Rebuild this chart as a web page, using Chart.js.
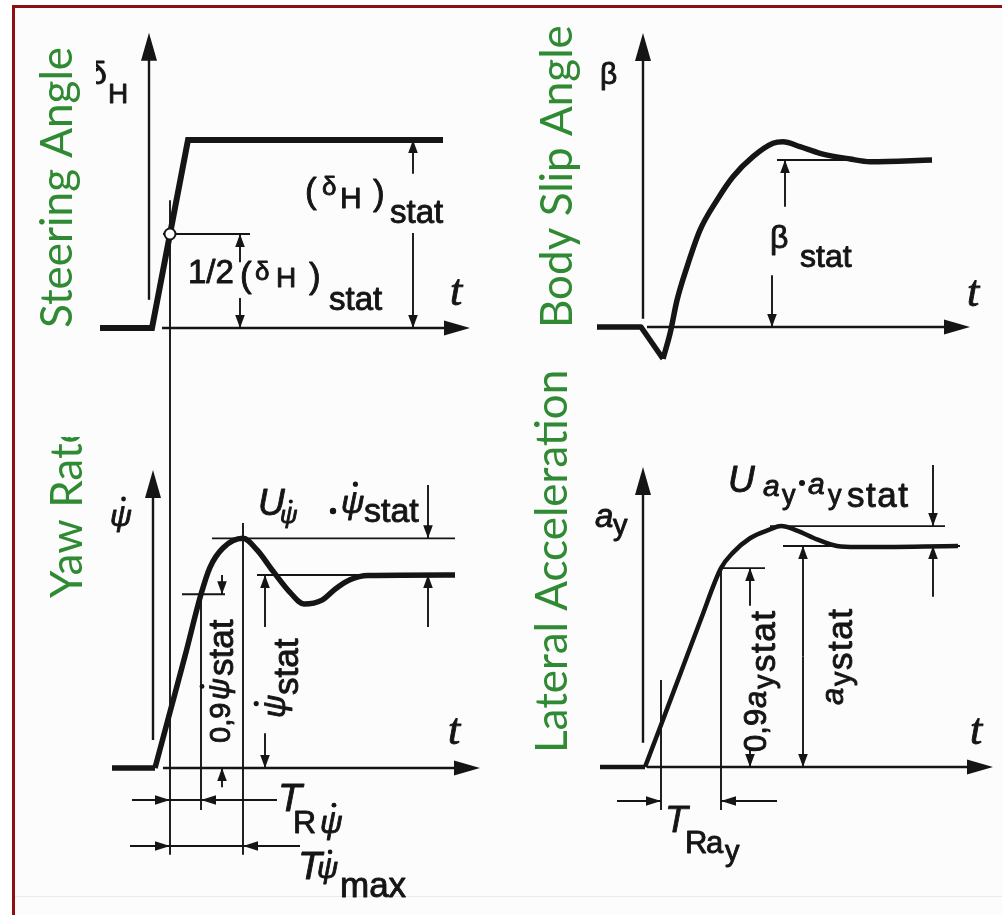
<!DOCTYPE html>
<html>
<head>
<meta charset="utf-8">
<title>Step steer response</title>
<script src="https://cdn.jsdelivr.net/npm/chart.js@4.4.1/dist/chart.umd.min.js"></script>
<style>
  html, body { margin: 0; padding: 0; background: #ffffff; }
  #sheet { position: relative; width: 1002px; height: 915px; overflow: hidden; }
  #paper { position: absolute; left: 14px; top: 7px; right: 0; bottom: 0; background: #fbfcfb; }
  #rimTop { position: absolute; left: 12px; top: 5px; right: 0; height: 2.5px; background: #8e0f12; }
  #rimLeft { position: absolute; left: 12px; top: 5px; width: 2.5px; bottom: 0; background: #8e0f12; }
  #rimBottom { position: absolute; left: 14px; right: 0; top: 896px; height: 1px; background: #e8ecef; }
  canvas { position: absolute; left: 0; top: 0; }
</style>
</head>
<body>
<div id="sheet">
  <div id="paper"></div>
  <div id="rimBottom"></div>
  <div id="rimTop"></div>
  <div id="rimLeft"></div>
  <canvas id="leftColumn" width="1002" height="915"></canvas>
  <canvas id="rightColumn" width="1002" height="915"></canvas>
</div>
<script>
// time in s, counted from the moment the steering wheel passes half of its travel;
// every signal is relative to its own steady-state value (stat = 1)
const steerTime  = [-0.35, -0.09, 0.09, 1.365];
const steerValue = [0, 0, 1, 1];

const betaTime  = [-0.32, -0.1, 0.01, 0.045, 0.08, 0.13, 0.195, 0.28, 0.36, 0.46, 0.56, 0.61, 0.695, 0.795, 0.945, 1.045, 1.355];
const betaValue = [0, 0, -0.19, -0.04, 0.16, 0.36, 0.58, 0.76, 0.9, 1.02, 1.1, 1.11, 1.08, 1.04, 1.006, 0.99, 1];

const yawTime  = [-0.29, -0.075, 0, 0.075, 0.155, 0.2, 0.265, 0.365, 0.435, 0.515, 0.6, 0.67, 0.76, 0.83, 0.9, 0.99, 1.425];
const yawValue = [0, 0, 0.29, 0.58, 0.9, 1.04, 1.14, 1.19, 1.13, 1.02, 0.91, 0.85, 0.87, 0.93, 0.975, 0.997, 1];

const latTime  = [-0.305, -0.08, 0, 0.1, 0.2, 0.3, 0.36, 0.445, 0.545, 0.6, 0.68, 0.78, 0.88, 0.98, 1.485];
const latValue = [0, 0, 0.19, 0.43, 0.67, 0.9, 0.97, 1.035, 1.075, 1.09, 1.07, 1.03, 1.0, 0.995, 1];

// characteristic values marked on the plots
const halfSteer = 0.5;
const yawRise = { level: 0.9, time: 0.155 };   // T_R
const yawPeak = { level: 1.19, time: 0.365 };  // T_max and overshoot U
const latRise = { level: 0.9, time: 0.3 };
const latPeak = 1.09;

// page layout
const W = 1002, H = 915;
const SEC = 200;                                   // px per s, both columns
const leftCol  = { ref: 170, from: 90,  to: 490 };  // pixel column of t = 0 and plot span
const rightCol = { ref: 661, from: 580, to: 1000 };
const rows = { steer: [328, 188], yaw: [768, 193], beta: [327, 167], lat: [767, 221] }; // zero line, px per stat unit

const INK = '#151515';
const GREEN = '#2f8a33';
const SANS = '"Liberation Sans", Arial, sans-serif';
const SERIF = '"Liberation Serif", "Times New Roman", serif';

function xScale(col) {
    return { type: 'linear', display: false, min: (col.from - col.ref) / SEC, max: (col.to - col.ref) / SEC };
}
function yScale(row) {
    return { type: 'linear', display: false, min: -(H - row[0]) / row[1], max: row[0] / row[1] };
}

// one drawn stretch of a signal; the flat pre-step part is kept straight so the corner stays sharp
function trace(axis, t, v, from, to, smooth, width, join) {
    return {
        yAxisID: axis,
        data: t.slice(from, to).map(function (x, i) { return { x: x, y: v[from + i] }; }),
        borderColor: INK,
        borderWidth: width || 5.5,
        pointRadius: 0,
        tension: smooth ? 0.4 : 0,
        cubicInterpolationMode: smooth ? 'monotone' : 'default',
        borderJoinStyle: join || 'round',
        borderCapStyle: 'butt',
        clip: false
    };
}

function pen(chart) {
    const ctx = chart.ctx;
    const at = function (axis, t, v) {
        return [chart.scales.x.getPixelForValue(t), chart.scales[axis].getPixelForValue(v)];
    };
    const seg = function (a, b, w) {
        ctx.lineWidth = w;
        ctx.beginPath(); ctx.moveTo(a[0], a[1]); ctx.lineTo(b[0], b[1]); ctx.stroke();
    };
    const head = function (from, tip, len, half) {
        const dx = tip[0] - from[0], dy = tip[1] - from[1], d = Math.hypot(dx, dy) || 1;
        const ux = dx / d, uy = dy / d, bx = tip[0] - ux * len, by = tip[1] - uy * len;
        ctx.beginPath();
        ctx.moveTo(tip[0], tip[1]);
        ctx.lineTo(bx - uy * half, by + ux * half);
        ctx.lineTo(bx + uy * half, by - ux * half);
        ctx.closePath(); ctx.fill();
    };
    ctx.strokeStyle = INK;
    ctx.fillStyle = INK;
    return {
        ctx: ctx, at: at, seg: seg, head: head,
        hLine: function (axis, v, t1, t2, w) { seg(at(axis, t1, v), at(axis, t2, v), w || 1.9); },
        vLine: function (axis, t, v1, v2, w) { seg(at(axis, t, v1), at(axis, t, v2), w || 1.9); },
        // coordinate axes with large heads
        vAxis: function (axis, t, v1, v2) {
            const a = at(axis, t, v1), b = at(axis, t, v2);
            seg(a, [b[0], b[1] + 12], 2.4); head(a, b, 28, 8);
        },
        hAxis: function (axis, t1, t2) {
            const a = at(axis, t1, 0), b = at(axis, t2, 0);
            seg(a, [b[0] - 12, b[1]], 2.4); head(a, b, 26, 7.5);
        },
        // dimension arrow: stem from v1, head touching v2
        dim: function (axis, t, v1, v2) {
            const a = at(axis, t, v1), b = at(axis, t, v2);
            seg(a, b, 1.9); head(a, b, 13, 4.8);
        },
        text: function (axis, t, v, parts, rotated, clipX) {
            const o = at(axis, t, v);
            ctx.save();
            if (clipX !== undefined) { ctx.beginPath(); ctx.rect(clipX, 0, W, H); ctx.clip(); }
            ctx.translate(o[0], o[1]);
            if (rotated) ctx.rotate(-Math.PI / 2);
            ctx.textBaseline = 'alphabetic';
            ctx.textAlign = 'left';
            ctx.lineWidth = 0.9;
            ctx.lineJoin = 'round';
            parts.forEach(function (p) {
                const dx = p.dx || 0, dy = p.dy || 0;
                if (p.c) {
                    ctx.beginPath(); ctx.arc(dx, dy, p.c, 0, 2 * Math.PI); ctx.fill();
                    return;
                }
                ctx.font = (p.i ? 'italic ' : '') + p.z + 'px ' + (p.serif ? SERIF : SANS);
                ctx.letterSpacing = (p.ls || 0) + 'px';
                ctx.fillText(p.s, dx, dy);
                ctx.strokeText(p.s, dx, dy);   // a little extra weight, like printed figure lettering
                if (p.dot) {
                    const w = ctx.measureText(p.s).width;
                    ctx.beginPath();
                    ctx.arc(dx + w * 0.62, dy - p.z * 0.9, Math.max(2, p.z * 0.08), 0, 2 * Math.PI);
                    ctx.fill();
                }
            });
            ctx.restore();
        }
    };
}

// rotated green heading at the side of a plot
function sideTitle(ctx, text, x, y, clipTop) {
    ctx.save();
    if (clipTop !== undefined) { ctx.beginPath(); ctx.rect(0, clipTop, W, H); ctx.clip(); }
    ctx.translate(x, y);
    ctx.rotate(-Math.PI / 2);
    ctx.font = '44px Lato, "Open Sans", sans-serif';
    ctx.fillStyle = GREEN;
    ctx.textAlign = 'left';
    ctx.textBaseline = 'alphabetic';
    ctx.fillText(text, 0, 0);
    ctx.restore();
}

const leftMarks = {
    id: 'leftMarks',
    beforeDatasetsDraw: function (chart) {
        const p = pen(chart);
        p.ctx.save();
        // steering angle
        p.vAxis('ySteer', -0.105, 0.15, 1.57);
        p.hAxis('ySteer', -0.04, 1.5);
        p.hLine('ySteer', halfSteer, -0.035, 0.4);
        // time reference through the half-travel point, carried down to the yaw plot
        p.seg(p.at('ySteer', 0, 0.68), p.at('yYaw', 0, -0.45), 1.9);
        // yaw rate
        p.vAxis('yYaw', -0.085, 0.145, 1.544);
        p.hAxis('yYaw', -0.035, 1.55);
        p.hLine('yYaw', yawPeak.level, 0.21, 1.425);
        p.hLine('yYaw', 1, 0.435, 1.425);
        p.hLine('yYaw', yawRise.level, 0.06, 0.275);
        p.vLine('yYaw', yawRise.time, yawRise.level, -0.218);
        p.vLine('yYaw', yawPeak.time, 1.27, -0.45);
        // response time and peak time
        p.hLine('yYaw', -0.166, -0.19, 0.535);
        p.head(p.at('yYaw', -0.1, -0.166), p.at('yYaw', 0, -0.166), 15, 4.8);
        p.head(p.at('yYaw', 0.3, -0.166), p.at('yYaw', yawRise.time, -0.166), 15, 4.8);
        p.hLine('yYaw', -0.404, -0.2, 0.65);
        p.head(p.at('yYaw', -0.1, -0.404), p.at('yYaw', 0, -0.404), 15, 4.8);
        p.head(p.at('yYaw', 0.5, -0.404), p.at('yYaw', yawPeak.time, -0.404), 15, 4.8);
        p.ctx.restore();
    },
    afterDatasetsDraw: function (chart) {
        const p = pen(chart), ctx = p.ctx;
        ctx.save();
        // half-travel marker
        const m = p.at('ySteer', 0, halfSteer);
        ctx.beginPath(); ctx.arc(m[0], m[1], 5.5, 0, 2 * Math.PI);
        ctx.fillStyle = '#ffffff'; ctx.fill(); ctx.lineWidth = 2; ctx.stroke();
        ctx.fillStyle = INK;

        p.dim('ySteer', 0.35, 0.35, halfSteer);
        p.dim('ySteer', 0.35, 0.16, 0);
        p.dim('ySteer', 1.215, 0.82, 1);
        p.dim('ySteer', 1.215, 0.505, 0);

        p.dim('yYaw', 0.26, 1.0, yawRise.level);
        p.dim('yYaw', 0.26, -0.1, 0);
        p.dim('yYaw', 0.475, 0.73, 1);
        p.dim('yYaw', 0.475, 0.18, 0);
        p.dim('yYaw', 1.29, 1.466, yawPeak.level);
        p.dim('yYaw', 1.29, 0.73, 1);

        // labels, steering angle
        p.text('ySteer', -0.405, 1.298, [{ s: 'δ', z: 32 }, { s: 'H', z: 28, dx: 19, dy: 19 }], false, p.at('ySteer', -0.37, 0)[0]);
        p.text('ySteer', 0.675, 0.665, [
            { s: '(', z: 35 }, { s: 'δ', z: 26, dx: 17, dy: -8 }, { s: 'H', z: 30, dx: 35, dy: 5 },
            { s: ')', z: 35, dx: 68, dy: 2 }, { s: 'stat', z: 33, dx: 85, dy: 20 }
        ]);
        p.text('ySteer', 0.09, 0.239, [
            { s: '1/2', z: 33 }, { s: '(', z: 35, dx: 52, dy: 4 }, { s: 'δ', z: 26, dx: 67, dy: -3 },
            { s: 'H', z: 28, dx: 88, dy: 4 }, { s: ')', z: 35, dx: 121, dy: 5 }, { s: 'stat', z: 33, dx: 141, dy: 27 }
        ]);
        p.text('ySteer', 1.4, 0.122, [{ s: 't', z: 44, i: true, serif: true }]);

        // labels, yaw rate
        p.text('yYaw', -0.3, 1.254, [{ s: 'ψ', z: 30, i: true, dot: true }]);
        p.text('yYaw', 0.44, 1.311, [
            { s: 'U', z: 37, i: true }, { s: 'ψ', z: 24, i: true, dx: 22, dy: 8, dot: true },
            { c: 3.2, dx: 75, dy: -4 }, { s: 'ψ', z: 32, i: true, dx: 83, dy: -2, dot: true },
            { s: 'stat', z: 34, dx: 106, dy: 7 }
        ]);
        p.text('yYaw', 0.3, 0.13, [
            { s: '0,9', z: 29 }, { s: 'ψ', z: 30, i: true, dx: 43, dy: -1, dot: true }, { s: 'stat', z: 35, dx: 67, dy: 3 }
        ], true);
        p.text('yYaw', 0.575, 0.259, [
            { s: 'ψ', z: 32, i: true, dot: true }, { s: 'stat', z: 35, dx: 23, dy: 13 }
        ], true);
        p.text('yYaw', 0.54, -0.223, [
            { s: 'T', z: 39, i: true }, { s: 'R', z: 32, dx: 15, dy: 22 }, { s: 'ψ', z: 31, i: true, dx: 42, dy: 22, dot: true }
        ]);
        p.text('yYaw', 0.64, -0.575, [
            { s: 'T', z: 39, i: true }, { s: 'ψ', z: 29, i: true, dx: 19, dy: -1, dot: true }, { s: 'max', z: 35, dx: 42, dy: 18 }
        ]);
        p.text('yYaw', 1.39, 0.124, [{ s: 't', z: 44, i: true, serif: true }]);
        ctx.restore();
    },
    afterDraw: function (chart) {
        sideTitle(chart.ctx, 'Steering Angle', 72, 328);
        sideTitle(chart.ctx, 'Yaw Rate', 82, 598, 437);
    }
};

const rightMarks = {
    id: 'rightMarks',
    beforeDatasetsDraw: function (chart) {
        const p = pen(chart);
        p.ctx.save();
        // body slip angle
        p.vAxis('yBeta', -0.09, 0.05, 1.76);
        p.hAxis('yBeta', -0.07, 1.545);
        p.hLine('yBeta', 1, 0.58, 1.05);
        // lateral acceleration
        p.vAxis('yLat', -0.09, 0.11, 1.357);
        p.hAxis('yLat', -0.07, 1.66);
        p.hLine('yLat', latPeak, 0.545, 1.42);
        p.hLine('yLat', 1, 0.61, 1.495);
        p.hLine('yLat', latRise.level, latRise.time, 0.52);
        p.vLine('yLat', 0, 0.394, -0.195);
        p.vLine('yLat', latRise.time, latRise.level, -0.195);
        // response time
        p.hLine('yLat', -0.154, -0.22, 0);
        p.head(p.at('yLat', -0.1, -0.154), p.at('yLat', 0, -0.154), 15, 4.8);
        p.hLine('yLat', -0.154, latRise.time, 0.58);
        p.head(p.at('yLat', 0.5, -0.154), p.at('yLat', latRise.time, -0.154), 15, 4.8);
        p.ctx.restore();
    },
    afterDatasetsDraw: function (chart) {
        const p = pen(chart), ctx = p.ctx;
        ctx.save();
        p.dim('yBeta', 0.62, 0.72, 1);
        p.dim('yBeta', 0.555, 0.31, 0);

        p.dim('yLat', 0.71, 0.5, 1);
        p.dim('yLat', 0.71, 0.5, 0);
        p.dim('yLat', 0.445, 0.73, latRise.level);
        p.dim('yLat', 0.445, 0.09, 0);
        p.dim('yLat', 1.36, 1.367, latPeak);
        p.dim('yLat', 1.36, 0.77, 1);

        // labels, body slip angle
        p.text('yBeta', -0.305, 1.455, [{ s: 'β', z: 30 }]);
        p.text('yBeta', 0.545, 0.473, [{ s: 'β', z: 32 }, { s: 'stat', z: 32, dx: 30, dy: 19 }]);
        p.text('yBeta', 1.53, 0.126, [{ s: 't', z: 44, i: true, serif: true }]);

        // labels, lateral acceleration
        p.text('yLat', -0.33, 1.086, [{ s: 'a', z: 33, i: true }, { s: 'y', z: 29, dx: 18, dy: 8 }]);
        p.text('yLat', 0.335, 1.244, [
            { s: 'U', z: 37, i: true }, { s: 'a', z: 30, i: true, dx: 35, dy: 4 }, { s: 'y', z: 27, dx: 54, dy: 12 },
            { c: 3, dx: 74, dy: -9 }, { s: 'a', z: 30, i: true, dx: 80, dy: 2 }, { s: 'y', z: 27, dx: 100, dy: 12 },
            { s: 'stat', z: 35, dx: 119, dy: 15, ls: 1.5 }
        ]);
        p.text('yLat', 0.525, 0.068, [
            { s: '0,9', z: 31 }, { s: 'a', z: 31, i: true, dx: 44 }, { s: 'y', z: 29, dx: 63, dy: 8 },
            { s: 'stat', z: 35, dx: 80, dy: 9, ls: 1.5 }
        ], true);
        p.text('yLat', 0.91, 0.281, [
            { s: 'a', z: 31, i: true }, { s: 'y', z: 29, dx: 19, dy: 8 }, { s: 'stat', z: 35, dx: 35, dy: 9, ls: 1.5 }
        ], true);
        p.text('yLat', 0.02, -0.294, [
            { s: 'T', z: 37, i: true }, { s: 'R', z: 31, dx: 20, dy: 21 }, { s: 'a', z: 31, dx: 41, dy: 21 },
            { s: 'y', z: 29, dx: 60, dy: 29 }
        ]);
        p.text('yLat', 1.545, 0.104, [{ s: 't', z: 44, i: true, serif: true }]);
        ctx.restore();
    },
    afterDraw: function (chart) {
        sideTitle(chart.ctx, 'Body Slip Angle', 572, 328);
        sideTitle(chart.ctx, 'Lateral Acceleration', 567, 753);
    }
};

function columnOptions(col, yScales) {
    const scales = { x: xScale(col) };
    Object.keys(yScales).forEach(function (k) { scales[k] = yScale(yScales[k]); });
    return {
        responsive: false,
        animation: false,
        events: [],
        layout: { padding: { left: col.from, right: W - col.to, top: 0, bottom: 0 } },
        plugins: { legend: { display: false }, tooltip: { enabled: false }, title: { display: false } },
        scales: scales
    };
}

new Chart(document.getElementById('leftColumn').getContext('2d'), {
    type: 'line',
    data: {
        datasets: [
            trace('ySteer', steerTime, steerValue, 0, undefined, false, 6, 'miter'),
            trace('yYaw', yawTime, yawValue, 0, 2, false, 5.5),
            trace('yYaw', yawTime, yawValue, 1, undefined, true, 5.5)
        ]
    },
    options: columnOptions(leftCol, { ySteer: rows.steer, yYaw: rows.yaw }),
    plugins: [leftMarks]
});

new Chart(document.getElementById('rightColumn').getContext('2d'), {
    type: 'line',
    data: {
        datasets: [
            trace('yBeta', betaTime, betaValue, 0, 3, false, 5.5),
            trace('yBeta', betaTime, betaValue, 2, undefined, true, 5.5),
            trace('yLat', latTime, latValue, 0, 2, false, 4.5),
            trace('yLat', latTime, latValue, 1, undefined, true, 4.5)
        ]
    },
    options: columnOptions(rightCol, { yBeta: rows.beta, yLat: rows.lat }),
    plugins: [rightMarks]
});
</script>
</body>
</html>
